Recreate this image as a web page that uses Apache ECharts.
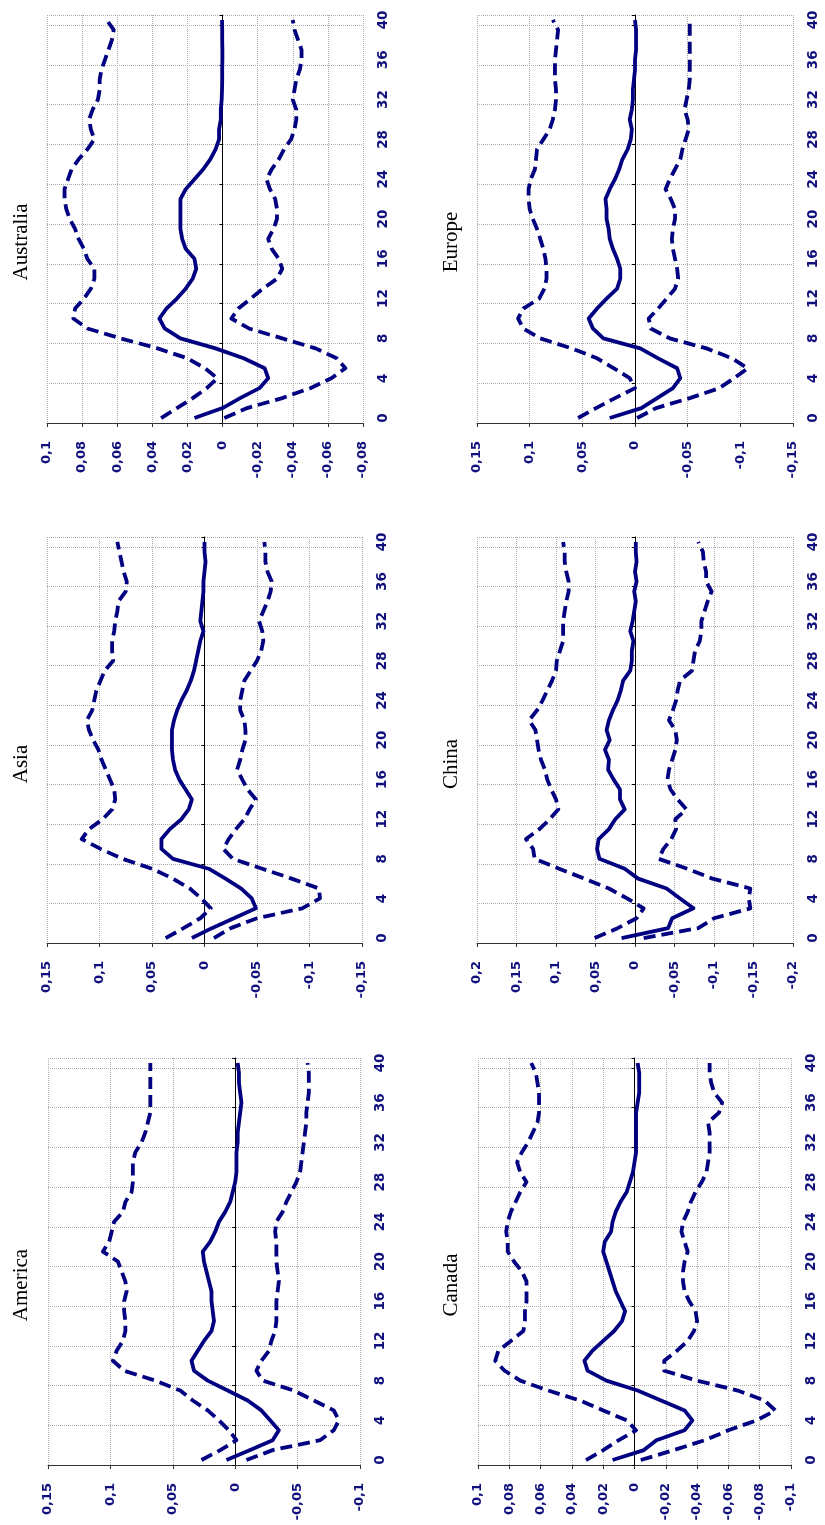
<!DOCTYPE html>
<html><head><meta charset="utf-8">
<script src="https://cdn.jsdelivr.net/npm/echarts@6/dist/echarts.min.js"></script>
<style>html,body{margin:0;padding:0;background:#fff}#c{width:825px;height:1525px}</style>
</head><body><div id="c"></div>
<script>
const horizons = ['0','1','2','3','4','5','6','7','8','9','10','11','12','13','14','15','16','17','18','19','20','21','22','23','24','25','26','27','28','29','30','31','32','33','34','35','36','37','38','39','40'];
const panelTitles = ['Australia','Europe','Asia','China','America','Canada'];
const axisMax = [0.1, 0.15, 0.15, 0.2, 0.15, 0.1];
const axisMin = [-0.08, -0.15, -0.15, -0.2, -0.1, -0.1];
const axisStep = [0.02, 0.05, 0.05, 0.05, 0.05, 0.02];

const australiaIrf = [0.016,0.000,-0.010,-0.021,-0.026,-0.024,-0.012,0.004,0.024,0.033,0.036,0.032,0.026,0.021,0.017,0.015,0.016,0.021,0.023,0.024,0.024,0.024,0.024,0.021,0.016,0.011,0.007,0.004,0.002,0.002,0.001,0.001,0.0005,0.0003,0.0002,0.0002,0.0001,0.0001,0.0002,0.0002,0.0003];
const australiaUpper = [0.035,0.026,0.017,0.009,0.003,0.010,0.020,0.037,0.058,0.077,0.085,0.084,0.079,0.075,0.073,0.073,0.077,0.079,0.082,0.084,0.087,0.089,0.090,0.090,0.088,0.086,0.082,0.077,0.073,0.075,0.076,0.074,0.071,0.070,0.070,0.069,0.067,0.065,0.063,0.062,0.066];
const australiaLower = [-0.001,-0.014,-0.034,-0.050,-0.062,-0.070,-0.065,-0.053,-0.034,-0.015,-0.005,-0.009,-0.016,-0.023,-0.031,-0.034,-0.032,-0.028,-0.026,-0.029,-0.031,-0.031,-0.030,-0.027,-0.025,-0.028,-0.032,-0.035,-0.039,-0.041,-0.042,-0.042,-0.040,-0.041,-0.042,-0.044,-0.045,-0.045,-0.043,-0.041,-0.040];

const europeIrf = [0.024,-0.006,-0.021,-0.036,-0.043,-0.040,-0.022,-0.005,0.030,0.040,0.044,0.036,0.027,0.017,0.014,0.014,0.017,0.021,0.024,0.025,0.027,0.027,0.028,0.024,0.019,0.015,0.012,0.007,0.004,0.003,0.005,0.003,0.002,0.002,0.001,0.000,0.000,-0.001,-0.001,-0.001,0.000];
const europeUpper = [0.054,0.037,0.019,0.000,0.005,0.020,0.036,0.060,0.090,0.106,0.111,0.106,0.091,0.086,0.084,0.084,0.085,0.087,0.090,0.093,0.097,0.100,0.101,0.101,0.099,0.095,0.094,0.093,0.087,0.081,0.078,0.076,0.075,0.075,0.076,0.076,0.076,0.075,0.074,0.073,0.078];
const europeLower = [-0.002,-0.020,-0.052,-0.080,-0.094,-0.107,-0.092,-0.068,-0.033,-0.015,-0.013,-0.022,-0.030,-0.038,-0.041,-0.040,-0.038,-0.036,-0.035,-0.036,-0.038,-0.038,-0.034,-0.029,-0.033,-0.038,-0.043,-0.045,-0.048,-0.051,-0.050,-0.047,-0.049,-0.051,-0.052,-0.052,-0.052,-0.052,-0.052,-0.052,-0.052];

const asiaIrf = [0.012,-0.007,-0.028,-0.049,-0.045,-0.035,-0.020,-0.004,0.030,0.041,0.041,0.033,0.022,0.015,0.012,0.018,0.024,0.028,0.030,0.031,0.031,0.031,0.029,0.026,0.022,0.017,0.013,0.010,0.008,0.006,0.004,0.001,0.004,0.003,0.002,0.001,0.001,0.000,-0.001,0.000,0.000];
const asiaUpper = [0.037,0.020,0.004,-0.006,0.003,0.014,0.030,0.050,0.078,0.099,0.117,0.110,0.097,0.088,0.085,0.086,0.090,0.094,0.098,0.101,0.106,0.110,0.112,0.107,0.105,0.103,0.099,0.095,0.087,0.088,0.088,0.086,0.085,0.083,0.082,0.075,0.074,0.077,0.079,0.081,0.083];
const asiaLower = [-0.009,-0.025,-0.050,-0.093,-0.110,-0.109,-0.083,-0.055,-0.027,-0.018,-0.023,-0.030,-0.038,-0.043,-0.049,-0.041,-0.036,-0.031,-0.034,-0.036,-0.039,-0.039,-0.038,-0.034,-0.034,-0.036,-0.038,-0.044,-0.050,-0.054,-0.056,-0.055,-0.052,-0.056,-0.060,-0.063,-0.064,-0.060,-0.058,-0.058,-0.057];

const chinaIrf = [0.017,-0.042,-0.047,-0.074,-0.057,-0.040,-0.004,0.013,0.045,0.048,0.046,0.033,0.025,0.013,0.019,0.019,0.027,0.034,0.033,0.038,0.032,0.036,0.033,0.028,0.022,0.018,0.015,0.006,0.004,0.004,0.002,0.006,0.003,0.001,-0.001,0.001,-0.002,0.000,-0.002,-0.001,-0.001];
const chinaUpper = [0.051,0.022,-0.002,-0.011,0.010,0.033,0.064,0.096,0.127,0.129,0.138,0.121,0.108,0.097,0.100,0.106,0.111,0.114,0.119,0.122,0.124,0.126,0.134,0.124,0.117,0.111,0.105,0.100,0.099,0.095,0.091,0.091,0.091,0.089,0.087,0.084,0.084,0.087,0.089,0.089,0.091];
const chinaLower = [-0.011,-0.080,-0.100,-0.146,-0.144,-0.146,-0.098,-0.066,-0.030,-0.036,-0.046,-0.052,-0.051,-0.065,-0.054,-0.045,-0.041,-0.043,-0.047,-0.051,-0.053,-0.051,-0.043,-0.048,-0.052,-0.054,-0.057,-0.072,-0.074,-0.076,-0.082,-0.084,-0.084,-0.088,-0.092,-0.097,-0.090,-0.090,-0.087,-0.086,-0.080];

const americaIrf = [0.007,-0.012,-0.030,-0.035,-0.028,-0.021,-0.010,0.006,0.022,0.033,0.035,0.030,0.025,0.019,0.017,0.018,0.019,0.019,0.021,0.023,0.025,0.026,0.020,0.016,0.013,0.008,0.004,0.002,0.000,-0.001,-0.001,-0.001,-0.002,-0.002,-0.003,-0.004,-0.005,-0.004,-0.003,-0.003,-0.002];
const americaUpper = [0.027,0.012,-0.001,0.005,0.013,0.022,0.034,0.044,0.064,0.089,0.098,0.095,0.090,0.088,0.088,0.089,0.089,0.087,0.088,0.091,0.094,0.106,0.101,0.099,0.097,0.090,0.088,0.083,0.082,0.082,0.082,0.080,0.075,0.072,0.070,0.068,0.068,0.068,0.068,0.068,0.068];
const americaLower = [-0.009,-0.030,-0.068,-0.079,-0.083,-0.079,-0.063,-0.047,-0.022,-0.017,-0.021,-0.027,-0.029,-0.032,-0.033,-0.033,-0.033,-0.034,-0.035,-0.034,-0.033,-0.033,-0.033,-0.032,-0.033,-0.038,-0.041,-0.045,-0.049,-0.052,-0.053,-0.054,-0.055,-0.056,-0.057,-0.057,-0.058,-0.059,-0.059,-0.059,-0.058];

const canadaIrf = [0.014,-0.006,-0.014,-0.032,-0.037,-0.032,-0.017,-0.002,0.018,0.030,0.032,0.027,0.020,0.013,0.008,0.006,0.009,0.012,0.014,0.016,0.018,0.020,0.019,0.015,0.014,0.012,0.009,0.005,0.003,0.001,0.000,-0.001,-0.001,-0.001,-0.001,-0.001,-0.002,-0.003,-0.003,-0.003,-0.002];
const canadaUpper = [0.031,0.020,0.010,-0.001,0.005,0.020,0.035,0.055,0.073,0.083,0.089,0.087,0.079,0.071,0.070,0.070,0.069,0.069,0.069,0.072,0.077,0.081,0.081,0.082,0.081,0.079,0.076,0.073,0.069,0.073,0.075,0.072,0.068,0.065,0.062,0.061,0.061,0.061,0.062,0.063,0.066];
const canadaLower = [-0.004,-0.025,-0.045,-0.060,-0.078,-0.090,-0.083,-0.066,-0.040,-0.019,-0.019,-0.027,-0.034,-0.038,-0.040,-0.039,-0.035,-0.032,-0.031,-0.031,-0.032,-0.034,-0.032,-0.030,-0.031,-0.034,-0.036,-0.039,-0.043,-0.046,-0.047,-0.048,-0.048,-0.048,-0.047,-0.054,-0.056,-0.051,-0.049,-0.048,-0.048];

const panelSeries = [
  [australiaIrf, australiaUpper, australiaLower],
  [europeIrf, europeUpper, europeLower],
  [asiaIrf, asiaUpper, asiaLower],
  [chinaIrf, chinaUpper, chinaLower],
  [americaIrf, americaUpper, americaLower],
  [canadaIrf, canadaUpper, canadaLower]
];

const grids = [
  {left:47, top:15, width:316, height:408},
  {left:477, top:15, width:316, height:408},
  {left:47, top:537, width:315, height:406},
  {left:477, top:537, width:316, height:406},
  {left:48, top:1058, width:312, height:407},
  {left:478, top:1058, width:313, height:407}
];
const titlePos = [[21,242],[451,242],[21,764],[451,764],[21,1285],[451,1285]];

const NAVY = '#000080';
const LABEL = '#0f0f7d';
const GRIDC = '#ababab';
const LABEL_FONT = '"DejaVu Sans", Verdana, sans-serif';
const fmt = v => String(Math.round(v * 1000) / 1000).replace('.', ',');

const xAxis = [], yAxis = [], series = [], graphic = [];
for (let i = 0; i < 6; i++) {
  xAxis.push({
    gridIndex: i, type: 'value', inverse: true,
    min: axisMin[i], max: axisMax[i], interval: axisStep[i],
    axisLine: {show: true, onZero: false, lineStyle: {color: '#333', width: 1}},
    axisTick: {show: true, length: 4, lineStyle: {color: '#333'}},
    axisLabel: {rotate: 90, margin: 18, color: LABEL, fontWeight: 'bold', fontSize: 13,
      fontFamily: LABEL_FONT, formatter: fmt},
    splitLine: {show: true, lineStyle: {type: 'dotted', color: GRIDC, width: 1}}
  });
  yAxis.push({
    gridIndex: i, type: 'category', data: horizons, boundaryGap: true, position: 'right',
    axisLine: {show: false, onZero: false},
    axisTick: {show: false},
    axisLabel: {interval: 3, rotate: 90, margin: 13, color: LABEL, fontWeight: 'bold', fontSize: 13.5,
      fontFamily: LABEL_FONT},
    splitLine: {show: true, interval: 3, lineStyle: {type: 'dotted', color: GRIDC, width: 1}}
  });
  yAxis.push({
    gridIndex: i, type: 'category', data: horizons, boundaryGap: true,
    axisLine: {show: true, onZero: true, lineStyle: {color: '#000', width: 1}},
    axisTick: {show: true, interval: 3, length: 3, lineStyle: {color: '#000'}},
    axisLabel: {show: false},
    splitLine: {show: false}
  });
  const styles = ['solid', [12, 6], [12, 6]];
  panelSeries[i].forEach((d, k) => {
    series.push({
      type: 'line', xAxisIndex: i, yAxisIndex: 2 * i, data: d,
      symbol: 'none', silent: true, z: 3,
      lineStyle: {color: NAVY, width: 3.8, type: styles[k], cap: 'butt', join: 'round'}
    });
  });
  graphic.push({
    type: 'text', x: titlePos[i][0], y: titlePos[i][1], rotation: Math.PI / 2,
    style: {text: panelTitles[i], fill: '#000', fontSize: 21,
      fontFamily: '"Liberation Serif", "DejaVu Serif", serif',
      align: 'center', verticalAlign: 'middle'}
  });
}

const chart = echarts.init(document.getElementById('c'));
chart.setOption({
  animation: false,
  backgroundColor: '#fff',
  grid: grids,
  xAxis, yAxis, series, graphic
});
</script>
</body></html>
